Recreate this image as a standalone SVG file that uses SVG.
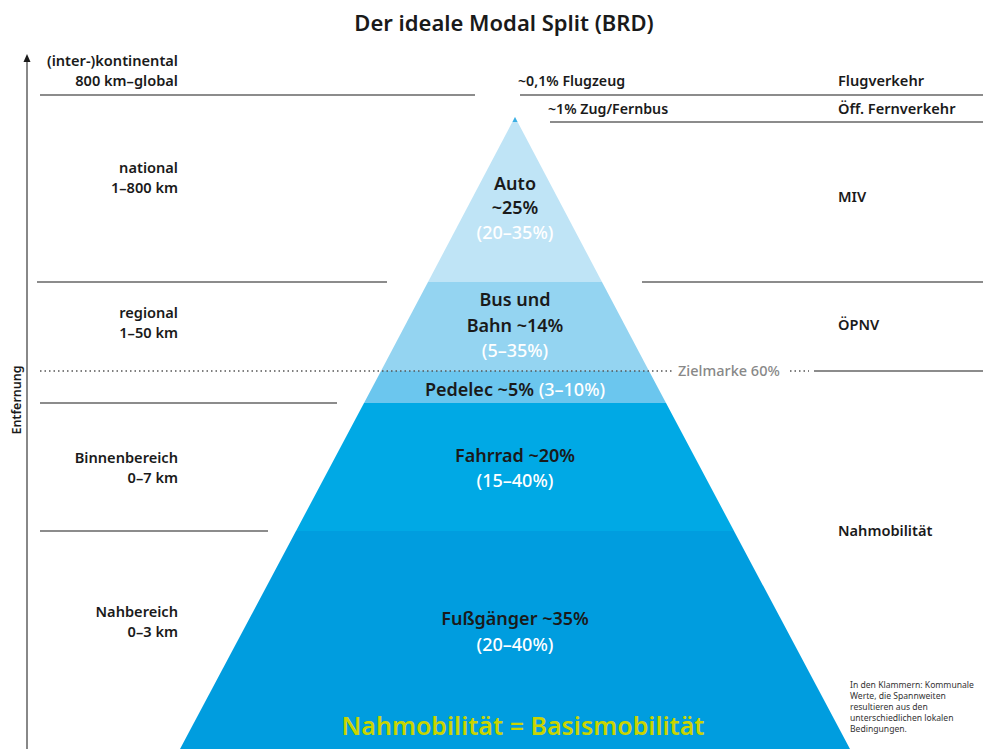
<svg xmlns="http://www.w3.org/2000/svg" width="983" height="749" viewBox="0 0 983 749">
  <style>
    text { font-family: "Noto Sans", "Open Sans", sans-serif; }
    .title { font-size: 22px; font-weight: 600; fill: #1a1a1a; }
    .lbl { font-size: 14.6px; font-weight: 600; fill: #1a1a1a; }
    .lbl-r { font-size: 14.6px; font-weight: 600; fill: #1a1a1a; text-anchor: end; }
    .seg { font-size: 18px; font-weight: 600; fill: #1a1a1a; text-anchor: middle; }
    .range { fill: #ffffff; font-weight: 500; }
    .rule { stroke: #666666; stroke-width: 1.5; fill: none; }
    .dots { stroke: #555555; stroke-width: 1.5; stroke-dasharray: 1.5 3; fill: none; }
    .note { font-size: 8.6px; fill: #333333; }
  </style>

  <rect width="983" height="749" fill="#ffffff"/>

  <text class="title" x="504" y="31" text-anchor="middle">Der ideale Modal Split (BRD)</text>

  <!-- distance axis -->
  <g id="axis">
    <line x1="27" y1="749" x2="27" y2="60" stroke="#888888" stroke-width="2"/>
    <polygon points="27,54 23.5,62 30.5,62" fill="#1a1a1a"/>
    <text transform="translate(21,400) rotate(-90)" text-anchor="middle" font-size="12.5" font-weight="600" fill="#1a1a1a">Entfernung</text>
  </g>

  <!-- pyramid bands, apex (515,117), half-width 335 at y=749 -->
  <g id="pyramid">
    <polygon id="band-auto" points="515,117 428,282 602,282" fill="#bfe4f6"/>
    <polygon id="band-bahn" points="428,282 602,282 649,371 381,371" fill="#94d4f1"/>
    <polygon id="band-pedelec" points="381,371 649,371 666,403 364,403" fill="#6bc6ee"/>
    <polygon id="band-fahrrad" points="364,403 666,403 734,531 296,531" fill="#00a9e5"/>
    <polygon id="band-fuss" points="296,531 734,531 850,749 180,749" fill="#009ddf"/>
    <polygon id="band-flug" points="515,117 512.5,122 517.5,122" fill="#3aaee3"/>
  </g>

  <!-- boundary rules -->
  <g id="connectors">
    <line class="rule" x1="40" y1="95" x2="475" y2="95"/>
    <line class="rule" x1="520" y1="95" x2="983" y2="95"/>
    <line class="rule" x1="550" y1="122" x2="983" y2="122"/>
    <line class="rule" x1="37" y1="282" x2="387" y2="282"/>
    <line class="rule" x1="642" y1="282" x2="983" y2="282"/>
    <line class="dots" x1="40" y1="371" x2="674" y2="371"/>
    <line class="dots" x1="790" y1="371" x2="809" y2="371"/>
    <line class="rule" x1="814" y1="371" x2="983" y2="371"/>
    <line class="rule" x1="40" y1="403" x2="337" y2="403"/>
    <line class="rule" x1="40" y1="531" x2="268" y2="531"/>
  </g>
  <text x="678" y="376" font-size="14.5" font-weight="500" fill="#888888">Zielmarke 60%</text>

  <!-- distance classes -->
  <g id="dist-global">
    <text class="lbl-r" x="178" y="66">(inter-)kontinental</text>
    <text class="lbl-r" x="178" y="86">800 km–global</text>
  </g>
  <g id="dist-national">
    <text class="lbl-r" x="178" y="173">national</text>
    <text class="lbl-r" x="178" y="193">1–800 km</text>
  </g>
  <g id="dist-regional">
    <text class="lbl-r" x="178" y="318">regional</text>
    <text class="lbl-r" x="178" y="338">1–50 km</text>
  </g>
  <g id="dist-binnen">
    <text class="lbl-r" x="178" y="463">Binnenbereich</text>
    <text class="lbl-r" x="178" y="483">0–7 km</text>
  </g>
  <g id="dist-nah">
    <text class="lbl-r" x="178" y="617">Nahbereich</text>
    <text class="lbl-r" x="178" y="637">0–3 km</text>
  </g>

  <!-- transport sectors -->
  <g id="sector-flug"><text class="lbl" x="838" y="86">Flugverkehr</text></g>
  <g id="sector-fern"><text class="lbl" x="838" y="114">Öff. Fernverkehr</text></g>
  <g id="sector-miv"><text class="lbl" x="838" y="202">MIV</text></g>
  <g id="sector-oepnv"><text class="lbl" x="838" y="330">ÖPNV</text></g>
  <g id="sector-nah"><text class="lbl" x="838" y="536">Nahmobilität</text></g>

  <!-- mode shares -->
  <g id="mode-flugzeug"><text x="518" y="86" font-size="14.2" font-weight="600" fill="#1a1a1a">~0,1% Flugzeug</text></g>
  <g id="mode-zug"><text x="548" y="114" font-size="14.2" font-weight="600" fill="#1a1a1a">~1% Zug/Fernbus</text></g>
  <g id="mode-auto">
    <text class="seg" x="515" y="190">Auto</text>
    <text class="seg" x="515" y="214">~25%</text>
    <text class="seg range" x="515" y="239">(20–35%)</text>
  </g>
  <g id="mode-bahn">
    <text class="seg" x="515" y="306">Bus und</text>
    <text class="seg" x="515" y="332">Bahn ~14%</text>
    <text class="seg range" x="515" y="357">(5–35%)</text>
  </g>
  <g id="mode-pedelec">
    <text class="seg" x="515" y="396">Pedelec ~5% <tspan class="range">(3–10%)</tspan></text>
  </g>
  <g id="mode-fahrrad">
    <text class="seg" x="515" y="462">Fahrrad ~20%</text>
    <text class="seg range" x="515" y="487">(15–40%)</text>
  </g>
  <g id="mode-fuss">
    <text class="seg" x="515" y="625">Fußgänger ~35%</text>
    <text class="seg range" x="515" y="651">(20–40%)</text>
  </g>

  <text x="523" y="735" text-anchor="middle" font-size="25" font-weight="600" fill="#c9d400">Nahmobilität = Basismobilität</text>

  <g id="footnote">
    <text class="note" x="850" y="688">In den Klammern: Kommunale</text>
    <text class="note" x="850" y="699">Werte, die Spannweiten</text>
    <text class="note" x="850" y="710">resultieren aus den</text>
    <text class="note" x="850" y="721">unterschiedlichen lokalen</text>
    <text class="note" x="850" y="732">Bedingungen.</text>
  </g>
</svg>
